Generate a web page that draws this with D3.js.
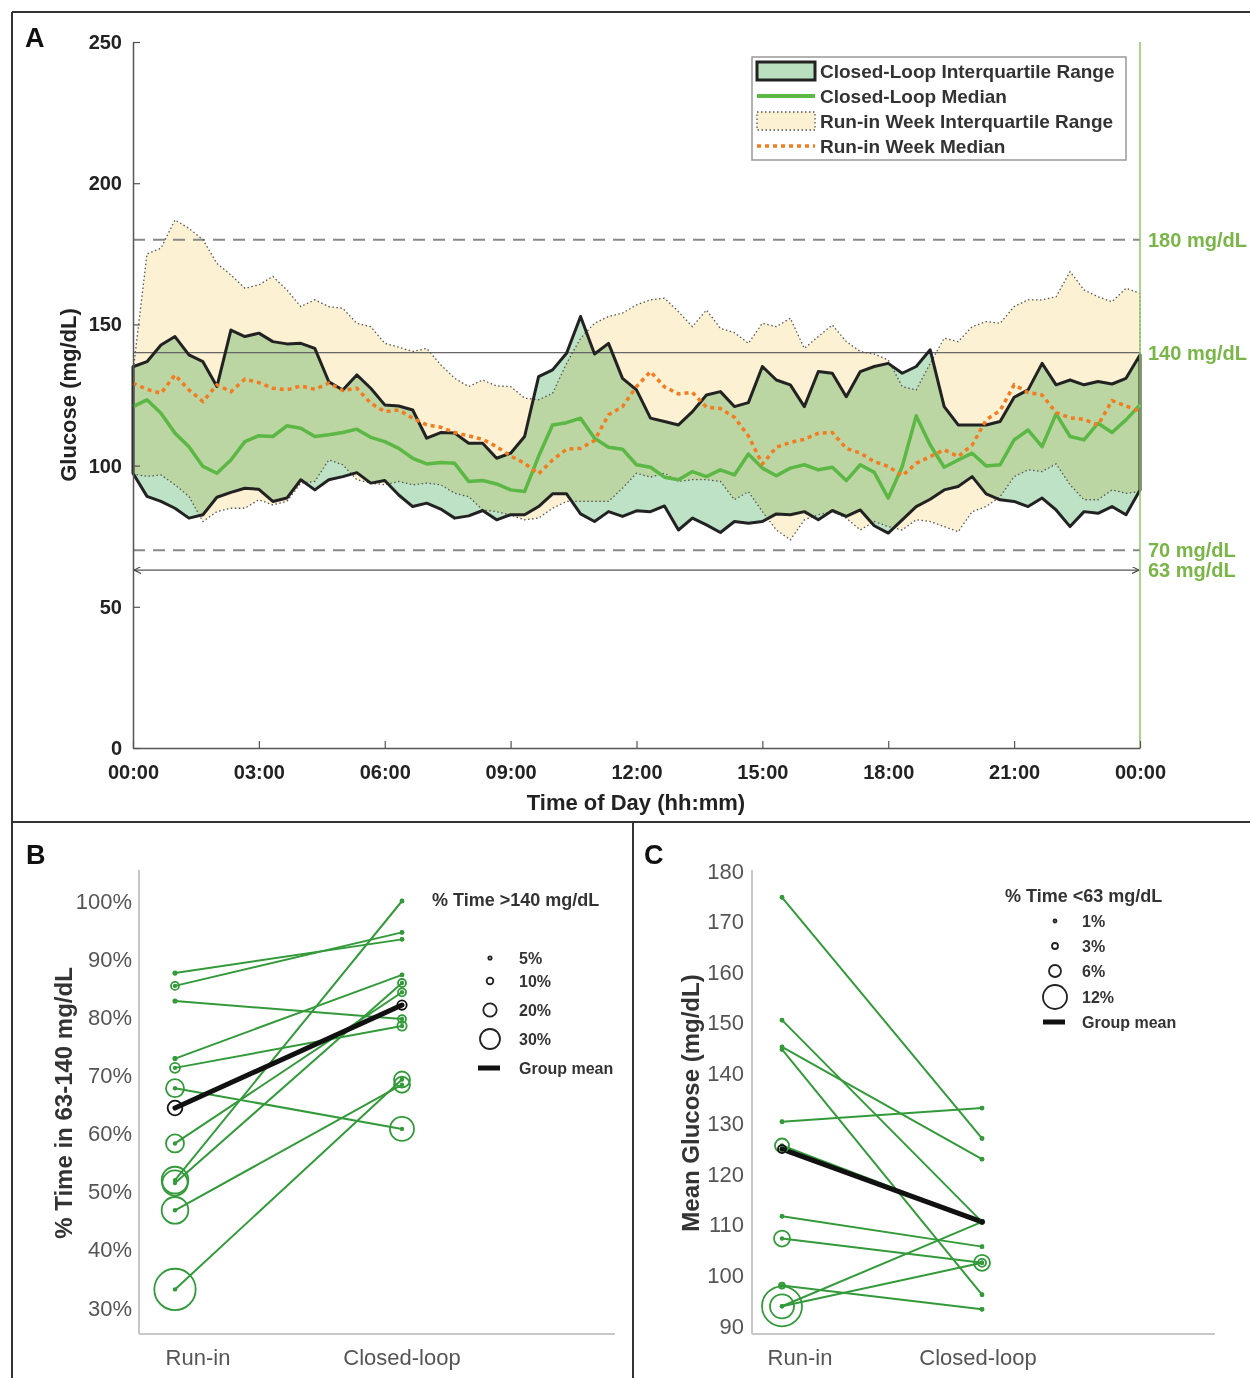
<!DOCTYPE html>
<html><head><meta charset="utf-8">
<script src="https://cdn.jsdelivr.net/npm/d3@7"></script>
<style>body{margin:0;background:#fff;} svg{display:block;font-family:"Liberation Sans",Arial,Helvetica,sans-serif;}</style>
</head><body><svg id="c" width="1250" height="1378"></svg>
<script>
// ---------- Panel A data (sampled every 20 minutes) ----------
const minutesOfDay = [0,20,40,60,80,100,120,140,160,180,200,220,240,260,280,300,320,340,360,380,400,420,440,460,480,500,520,540,560,580,600,620,640,660,680,700,720,740,760,780,800,820,840,860,880,900,920,940,960,980,1000,1020,1040,1060,1080,1100,1120,1140,1160,1180,1200,1220,1240,1260,1280,1300,1320,1340,1360,1380,1400,1420,1440];
const runinUpper = [133,175,177,187,184,180,171.6,167.5,162.8,164,167,162.2,156.3,158.7,156.3,155.7,150.4,149.2,143.3,141.9,140.4,141.5,135.7,130.9,128,130.3,128.2,128,123.9,123.3,125.6,136.2,145.1,150.4,152.8,154,156.9,158.7,159.3,154.5,149.2,155.1,148.6,147.1,143.3,150.4,149.2,152.2,141.5,145.7,149.8,143.9,140.4,139.5,137.4,128,126.8,136.2,145.1,143.9,149.2,151,150.4,156.3,158.7,158.7,159.8,168.7,162.2,159.8,158,162.8,161];
const runinLower = [97,96.2,96.7,93.2,89.1,80.2,83.7,84.9,84.9,87.9,86.1,87.3,93.8,94.4,102,100.3,95,93.8,93.2,94.4,93.2,93.8,93.2,90.2,89,84.3,83.7,82.5,80.8,81.4,84.9,87.3,87.3,87.3,87.3,92,97.3,95.9,97.3,94.4,95,95,94.4,87.9,90.8,83.7,77.2,73.7,80.8,82.6,83.7,81.4,77.2,80.2,78.4,77.2,80.8,80.2,78.4,76.6,83.7,85.5,89,96.1,98.5,97.9,100.6,93.2,87.9,87.9,91.4,90.2,90.8];
const closedUpper = [135,136.8,142.7,145.7,139.2,136.8,128,148,145.7,146.9,143.9,143.1,143.3,141.5,129.7,126.8,132.1,127.4,121.5,121.1,119.7,109.7,111.7,111.5,107.9,107.9,102.6,104.4,110.3,131.5,133.9,139.8,152.8,139.5,143.3,130.9,126.8,116.8,115.6,114.4,119.1,125,126.2,120.9,122.3,135.1,130.3,128.6,120.9,133.3,132.7,124.4,133.3,135.1,136.2,132.7,135.1,141,120.9,114.4,114.4,114.4,115.6,124.2,126.8,136.2,128.6,130.3,128.6,129.8,128.9,130.9,139.2];
const closedLower = [97.3,89.1,87.3,84.9,81.4,82.6,88.8,90.5,92,91.6,87.3,88.5,95,91.4,95,96.1,97.5,93.8,94.7,89.6,85.5,86.7,84.6,81.4,82.2,84.1,80.8,82.6,82.6,85.5,90,90,82.9,80.2,83.7,82,84,83.7,85.7,77.2,81.4,79,76.3,80.2,79.6,80.2,82.9,82.6,83.7,80.8,84.1,82,84.3,78.7,76.1,80.8,85.5,88.1,91.4,92.6,96.1,90,87.9,87.3,85.5,88.5,84.3,78.4,83.7,83.1,85.5,82.6,91.4];
const closedMedian = [120.9,123.3,118.5,111.5,106.7,99.7,97.3,102,108.5,110.6,110.3,114.1,113.2,110.3,110.9,111.7,112.9,110,108.5,106.1,102.6,100.6,101.1,100.8,94.4,94.7,93.5,91.4,90.8,103.3,114.4,115.2,116.8,109.7,106.5,105.8,100.3,99.4,95.9,95,97.9,96.1,98.5,96.7,104.1,99.1,96.4,99.1,100.3,98.5,99.4,94.7,100.3,97.6,88.5,99.7,117.6,107.3,99.4,102,104.4,99.9,100.3,109.1,112.6,106.7,118.3,110.3,109.1,115,111.7,116.2,121.5];
const runinMedian = [129.2,127,125.6,132.1,126.8,122.7,128.6,126.2,130.6,129.4,127.4,126.8,128.2,127,129.2,126.6,127.4,122.1,119.1,119.7,116.8,114.4,113.6,111.7,110.5,109.3,106.7,103.4,100.8,97.1,102,105.8,106.1,108.9,118,120.9,128,133.3,127.9,125.4,125.9,120.7,120.2,117.1,110.5,100.6,106.5,108.2,109.3,111.5,111.7,106.1,104.4,101.4,99.7,96.4,100.8,103.2,105.6,103.2,107.3,116.2,119.5,128.6,125.9,125,118.8,116.9,116.4,114.4,123,121.1,119.1];
const yTicksA = [0,50,100,150,200,250];
const xTickMinutesA = [0,180,360,540,720,900,1080,1260,1440];
const xTickLabelsA = ["00:00","03:00","06:00","09:00","12:00","15:00","18:00","21:00","00:00"];
const refLevels = [180,140,70,63];
const refLabels = ["180 mg/dL","140 mg/dL","70 mg/dL","63 mg/dL"];
const legendLabelsA = ["Closed-Loop Interquartile Range","Closed-Loop Median","Run-in Week Interquartile Range","Run-in Week Median"];

// ---------- Panel B data ----------
const periods = ["Run-in","Closed-loop"];
const tirRunin  = [87.6,85.4,82.8,72.9,71.3,67.8,58.3,52.0,51.5,46.8,33.2];
const tirClosed = [93.4,94.6,79.7,87.3,78.5,60.8,84.3,100.0,85.9,68.4,69.3];
const hyperRunin  = [5,12,5,5,15,27,27,40,38,40,62];
const hyperClosed = [4,4,12,4,14,36,12,3,12,24,24];
const tirMean = [64.4,82.1];
const hyperMean = [22,14];
const yTicksB = [30,40,50,60,70,80,90,100];
const legendPctB = [5,10,20,30];

// ---------- Panel C data ----------
const glucRunin  = [174.8,150.5,145.2,144.7,130.4,125.7,111.7,107.3,98.0,93.9,93.9];
const glucClosed = [127.1,110.6,123.0,96.2,133.1,110.6,105.7,102.5,93.3,110.6,102.5];
const hypoRunin  = [1,1,1,1.5,1,7,1,8,3,20,12];
const hypoClosed = [1,1,1,1,1,2,1,8,1,1,4];
const glucMean = [125.0,110.6];
const hypoMean = [4,2];
const yTicksC = [90,100,110,120,130,140,150,160,170,180];
const legendPctC = [1,3,6,12];

// ================= drawing =================
const svg = d3.select("#c");
svg.append("rect").attr("width",1250).attr("height",1378).attr("fill","#fff");

const GREEN_TXT = "#7ab547";
const PAIR_GREEN = "#339a3a";

// ---------- Panel A ----------
const xA = d3.scaleLinear().domain([0,1440]).range([133,1140]);
const yA = d3.scaleLinear().domain([0,250]).range([748,42]);
const gA = svg.append("g");

const areaGen = (lo, up) => d3.area()
  .x((d,i)=>xA(minutesOfDay[i]))
  .y0((d,i)=>yA(lo[i]))
  .y1((d,i)=>yA(up[i]))(minutesOfDay);
const outline = (up, lo) => {
  const pts = up.map((v,i)=>[xA(minutesOfDay[i]), yA(v)])
    .concat(lo.map((v,i)=>[xA(minutesOfDay[i]), yA(v)]).reverse());
  return "M" + pts.map(p=>p[0].toFixed(2)+","+p[1].toFixed(2)).join("L") + "Z";
};
const lineGen = arr => d3.line().x((d,i)=>xA(minutesOfDay[i])).y(d=>yA(d))(arr);

gA.append("path").attr("d", areaGen(runinLower, runinUpper)).attr("fill","#fcf1d2");
gA.append("path").attr("d", areaGen(closedLower, closedUpper)).attr("fill","#bde2c6")
  .style("mix-blend-mode","multiply");

// reference lines
gA.append("line").attr("x1",xA(0)).attr("x2",xA(1440)).attr("y1",yA(180)).attr("y2",yA(180))
  .attr("stroke","#888").attr("stroke-width",2).attr("stroke-dasharray","12,8");
gA.append("line").attr("x1",xA(0)).attr("x2",xA(1440)).attr("y1",yA(70)).attr("y2",yA(70))
  .attr("stroke","#888").attr("stroke-width",2).attr("stroke-dasharray","12,8");
gA.append("line").attr("x1",xA(0)).attr("x2",xA(1440)).attr("y1",yA(140)).attr("y2",yA(140))
  .attr("stroke","#666").attr("stroke-width",1.3);

const defs = svg.append("defs");
defs.append("marker").attr("id","arrEnd").attr("viewBox","0 0 10 10").attr("refX",10).attr("refY",5)
  .attr("markerWidth",9).attr("markerHeight",7).attr("markerUnits","userSpaceOnUse").attr("orient","auto")
  .append("path").attr("d","M0,0L10,5L0,10").attr("fill","none").attr("stroke","#444").attr("stroke-width",1.5);
defs.append("marker").attr("id","arrStart").attr("viewBox","0 0 10 10").attr("refX",0).attr("refY",5)
  .attr("markerWidth",9).attr("markerHeight",7).attr("markerUnits","userSpaceOnUse").attr("orient","auto")
  .append("path").attr("d","M10,0L0,5L10,10").attr("fill","none").attr("stroke","#444").attr("stroke-width",1.5);
gA.append("line").attr("x1",xA(0)+1).attr("x2",xA(1440)-1).attr("y1",yA(63)).attr("y2",yA(63))
  .attr("stroke","#555").attr("stroke-width",1.2)
  .attr("marker-start","url(#arrStart)").attr("marker-end","url(#arrEnd)");

// outlines and medians
gA.append("path").attr("d", outline(runinUpper, runinLower)).attr("fill","none")
  .attr("stroke","#555").attr("stroke-width",1.3).attr("stroke-dasharray","1.5,2.5");
gA.append("path").attr("d", outline(closedUpper, closedLower)).attr("fill","none")
  .attr("stroke","#222").attr("stroke-width",3).attr("stroke-linejoin","round");
gA.append("path").attr("d", lineGen(closedMedian)).attr("fill","none")
  .attr("stroke","#5cb844").attr("stroke-width",3.5).attr("stroke-linejoin","round");
gA.append("path").attr("d", lineGen(runinMedian)).attr("fill","none")
  .attr("stroke","#f47c20").attr("stroke-width",3.5).attr("stroke-dasharray","4,4");

// right green axis line
gA.append("line").attr("x1",xA(1440)).attr("x2",xA(1440)).attr("y1",yA(250)).attr("y2",yA(0))
  .attr("stroke","#8cc866").attr("stroke-width",1.5);

// right labels
gA.selectAll("text.ref").data(refLevels).enter().append("text")
  .attr("x",1148).attr("y",d=>yA(d)+7).attr("font-size",20).attr("font-weight","bold")
  .attr("fill",GREEN_TXT).text((d,i)=>refLabels[i]);

// axes
const axL = gA.append("g").attr("transform","translate(133,0)")
  .call(d3.axisLeft(yA).tickValues(yTicksA).tickSizeInner(-7).tickSizeOuter(0).tickPadding(11));
axL.select(".domain").attr("stroke","#555").attr("stroke-width",1.5);
axL.selectAll(".tick line").attr("stroke","#555").attr("stroke-width",1.2);
axL.selectAll("text").attr("font-size",20).attr("font-weight","bold").attr("fill","#222")
  .attr("font-family","Liberation Sans, Arial, sans-serif");
const axB = gA.append("g").attr("transform","translate(0,748)")
  .call(d3.axisBottom(xA).tickValues(xTickMinutesA).tickFormat((d,i)=>xTickLabelsA[i]).tickSizeInner(-7).tickSizeOuter(0).tickPadding(17));
axB.select(".domain").attr("stroke","#555").attr("stroke-width",1.5);
axB.selectAll(".tick line").attr("stroke","#555").attr("stroke-width",1.2);
axB.selectAll("text").attr("font-size",20).attr("font-weight","bold").attr("fill","#222")
  .attr("font-family","Liberation Sans, Arial, sans-serif");

gA.append("text").attr("x",636).attr("y",810).attr("text-anchor","middle").attr("font-size",22)
  .attr("font-weight","bold").attr("fill","#222").text("Time of Day (hh:mm)");
gA.append("text").attr("transform","translate(76,395) rotate(-90)").attr("text-anchor","middle")
  .attr("font-size",22).attr("font-weight","bold").attr("fill","#222").text("Glucose (mg/dL)");

// legend A
const lg = gA.append("g");
lg.append("rect").attr("x",752).attr("y",57).attr("width",374).attr("height",103)
  .attr("fill","#fff").attr("stroke","#999").attr("stroke-width",1.5);
const rowY = i => 71 + i*25;
lg.append("rect").attr("x",757).attr("y",rowY(0)-9).attr("width",58).attr("height",18)
  .attr("fill","#b9dfbf").attr("stroke","#222").attr("stroke-width",3);
lg.append("line").attr("x1",757).attr("x2",815).attr("y1",rowY(1)).attr("y2",rowY(1))
  .attr("stroke","#5cb844").attr("stroke-width",4);
lg.append("rect").attr("x",757).attr("y",rowY(2)-9).attr("width",58).attr("height",18)
  .attr("fill","#fcf1d2").attr("stroke","#555").attr("stroke-width",1.3).attr("stroke-dasharray","1.5,2.5");
lg.append("line").attr("x1",757).attr("x2",815).attr("y1",rowY(3)).attr("y2",rowY(3))
  .attr("stroke","#f47c20").attr("stroke-width",3.5).attr("stroke-dasharray","4,4");
lg.selectAll("text.lg").data(legendLabelsA).enter().append("text")
  .attr("x",820).attr("y",(d,i)=>rowY(i)+7).attr("font-size",19).attr("font-weight","bold")
  .attr("fill","#333").text(d=>d);

// ---------- frames ----------
const frame = svg.append("g").attr("stroke","#333").attr("stroke-width",2);
frame.append("line").attr("x1",12).attr("y1",12).attr("x2",1250).attr("y2",12);
frame.append("line").attr("x1",12).attr("y1",12).attr("x2",12).attr("y2",1378);
frame.append("line").attr("x1",12).attr("y1",822).attr("x2",1250).attr("y2",822);
frame.append("line").attr("x1",633).attr("y1",822).attr("x2",633).attr("y2",1378);

// panel letters
[["A",25,47],["B",26,864],["C",644,864]].forEach(([t,x,y])=>{
  svg.append("text").attr("x",x).attr("y",y).attr("font-size",27).attr("font-weight","bold").attr("fill","#111").text(t);
});

// ---------- paired panels ----------
function pairedPanel(o){
  const g = svg.append("g");
  const x = d3.scalePoint().domain(periods).range(o.xRange);
  const y = d3.scaleLinear().domain(o.yDomain).range(o.yRange);
  const r = d3.scaleLinear().domain(o.rDomain).range(o.rRange);
  g.append("line").attr("x1",o.axisX).attr("x2",o.axisX).attr("y1",870).attr("y2",1334).attr("stroke","#c8c8c8").attr("stroke-width",2);
  g.append("line").attr("x1",o.axisX).attr("x2",o.axisEnd).attr("y1",1334).attr("y2",1334).attr("stroke","#c8c8c8").attr("stroke-width",2);
  const ax = g.append("g").attr("transform",`translate(${o.axisX},0)`)
    .call(d3.axisLeft(y).tickValues(o.ticks).tickFormat(o.fmt).tickSize(0).tickPadding(o.pad));
  ax.select(".domain").remove();
  ax.selectAll("text").attr("font-size",22).attr("fill","#555").attr("font-family","Liberation Sans, Arial, sans-serif");
  periods.forEach((p,i)=>{
    g.append("text").attr("x",x(p)+o.labelDx[i]).attr("y",1365).attr("text-anchor","middle")
      .attr("font-size",22).attr("fill","#555").text(p);
  });
  g.append("text").attr("transform",`translate(${o.ylabX},1103) rotate(-90)`).attr("text-anchor","middle")
    .attr("font-size",24).attr("font-weight","bold").attr("fill","#333").text(o.ylab);
  o.a.forEach((v,i)=>{
    g.append("line").attr("x1",x(periods[0])).attr("y1",y(v)).attr("x2",x(periods[1])).attr("y2",y(o.b[i]))
      .attr("stroke",PAIR_GREEN).attr("stroke-width",2);
  });
  g.append("line").attr("x1",x(periods[0])).attr("y1",y(o.mean[0])).attr("x2",x(periods[1])).attr("y2",y(o.mean[1]))
    .attr("stroke","#111").attr("stroke-width",5).attr("stroke-linecap","round");
  const pts = [];
  o.a.forEach((v,i)=>{ pts.push({x:x(periods[0]),y:y(v),s:o.sa[i],c:PAIR_GREEN}); pts.push({x:x(periods[1]),y:y(o.b[i]),s:o.sb[i],c:PAIR_GREEN}); });
  pts.push({x:x(periods[0]),y:y(o.mean[0]),s:o.smean[0],c:"#111"});
  pts.push({x:x(periods[1]),y:y(o.mean[1]),s:o.smean[1],c:"#111"});
  pts.forEach(p=>{
    g.append("circle").attr("cx",p.x).attr("cy",p.y).attr("r",Math.max(r(p.s),1.5)).attr("fill","none").attr("stroke",p.c).attr("stroke-width",1.8);
    g.append("circle").attr("cx",p.x).attr("cy",p.y).attr("r",2.2).attr("fill",p.c);
  });
  g.append("text").attr("x",o.lgTitleX).attr("y",o.lgTitleY).attr("font-size",18).attr("font-weight","bold").attr("fill","#333").text(o.lgTitle);
  o.lgPct.forEach((pc,i)=>{
    const cy = o.lgY[i];
    g.append("circle").attr("cx",o.lgCx).attr("cy",cy).attr("r",Math.max(r(pc),1.5)).attr("fill","none").attr("stroke","#222").attr("stroke-width",1.8);
    g.append("text").attr("x",o.lgTx).attr("y",cy+6).attr("font-size",16).attr("font-weight","bold").attr("fill","#333").text(pc+"%");
  });
  const my = o.lgY[o.lgY.length-1] + o.lgMeanGap;
  g.append("line").attr("x1",o.lgCx-12).attr("x2",o.lgCx+10).attr("y1",my).attr("y2",my).attr("stroke","#111").attr("stroke-width",5);
  g.append("text").attr("x",o.lgTx).attr("y",my+6).attr("font-size",16).attr("font-weight","bold").attr("fill","#333").text("Group mean");
}

pairedPanel({
  xRange:[175,402], yDomain:[30,100], yRange:[1308,901], rDomain:[0,30], rRange:[0,10],
  axisX:139, axisEnd:615, ticks:yTicksB, fmt:d=>d+"%", pad:7, labelDx:[23,0],
  ylabX:72, ylab:"% Time in 63-140 mg/dL",
  a:tirRunin, b:tirClosed, sa:hyperRunin, sb:hyperClosed, mean:tirMean, smean:hyperMean,
  lgTitle:"% Time >140 mg/dL", lgTitleX:432, lgTitleY:906, lgPct:legendPctB, lgY:[958,981,1010,1039],
  lgMeanGap:29, lgCx:490, lgTx:519
});
pairedPanel({
  xRange:[782,982], yDomain:[90,180], yRange:[1326,871], rDomain:[0,12], rRange:[0,12],
  axisX:752, axisEnd:1215, ticks:yTicksC, fmt:d=>d, pad:8, labelDx:[18,-4],
  ylabX:699, ylab:"Mean Glucose (mg/dL)",
  a:glucRunin, b:glucClosed, sa:hypoRunin, sb:hypoClosed, mean:glucMean, smean:hypoMean,
  lgTitle:"% Time <63 mg/dL", lgTitleX:1005, lgTitleY:902, lgPct:legendPctC, lgY:[921,946,971,997],
  lgMeanGap:25, lgCx:1055, lgTx:1082
});
</script></body></html>
